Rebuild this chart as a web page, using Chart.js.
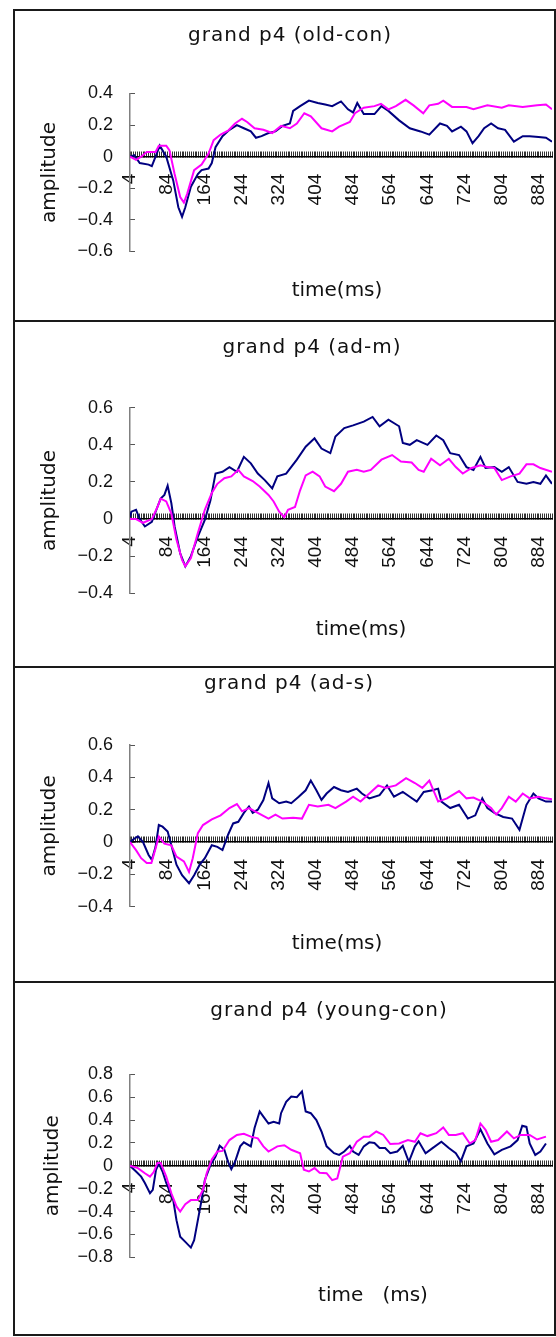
<!DOCTYPE html>
<html>
<head>
<meta charset="utf-8">
<script src="https://cdn.jsdelivr.net/npm/chart.js"></script>
<style>
  html, body { margin: 0; padding: 0; background: #fff; }
  body { position: relative; width: 556px; height: 1337px; overflow: hidden; }
  .panel { position: absolute; left: 13px; width: 543px; box-sizing: border-box; border: 2px solid #1a1a1a; }
  canvas { position: absolute; left: 0; }
</style>
</head>
<body>
<script>
// time axis (ms): one tick per 4 ms sample, a label every 80 ms
const timeMin = 4;
const timeMax = 912;
const timeStep = 4;
const xTickLabels = [4, 84, 164, 244, 324, 404, 484, 564, 644, 724, 804, 884];

const titles = ['grand p4 (old-con)', 'grand p4 (ad-m)', 'grand p4 (ad-s)', 'grand p4 (young-con)'];
const xTitles = ['time(ms)', 'time(ms)', 'time(ms)', 'time   (ms)'];
const yTitle = 'amplitude';
const yMins = [-0.6, -0.4, -0.4, -0.8];
const yMaxs = [0.4, 0.6, 0.6, 0.8];
const yStep = 0.2;

// [time ms, amplitude]
const oldConNavy = [[4,0],[13,0.01],[25,-0.04],[44,-0.05],[51,-0.06],[59,0],[68,0.07],[82,0],[97,-0.15],[108,-0.32],[116,-0.38],[123,-0.32],[135,-0.19],[150,-0.11],[158,-0.085],[173,-0.075],[180,-0.04],[188,0.06],[203,0.13],[218,0.17],[234,0.2],[249,0.18],[264,0.16],[275,0.12],[287,0.13],[302,0.15],[317,0.16],[332,0.195],[348,0.21],[355,0.29],[370,0.32],[389,0.355],[408,0.34],[424,0.33],[439,0.32],[458,0.35],[473,0.3],[484,0.28],[493,0.34],[507,0.27],[530,0.27],[545,0.32],[560,0.29],[583,0.23],[606,0.18],[629,0.16],[648,0.14],[671,0.21],[686,0.195],[697,0.16],[716,0.19],[728,0.16],[741,0.085],[754,0.13],[766,0.18],[781,0.21],[796,0.18],[811,0.17],[830,0.095],[849,0.13],[864,0.13],[883,0.125],[899,0.12],[912,0.095]];
const oldConPink = [[4,0],[17,-0.02],[28,0],[40,0.03],[59,0.03],[66,0.07],[82,0.07],[89,0.04],[100,-0.11],[112,-0.255],[120,-0.29],[127,-0.235],[142,-0.085],[158,-0.05],[173,0.02],[184,0.105],[199,0.14],[215,0.165],[230,0.21],[245,0.24],[256,0.22],[272,0.18],[291,0.17],[310,0.15],[329,0.195],[348,0.18],[363,0.21],[379,0.275],[393,0.255],[416,0.18],[439,0.16],[454,0.19],[477,0.22],[488,0.275],[507,0.31],[530,0.32],[544,0.335],[560,0.3],[576,0.32],[597,0.36],[614,0.325],[635,0.275],[648,0.325],[667,0.335],[678,0.355],[697,0.315],[728,0.315],[743,0.3],[773,0.325],[804,0.31],[819,0.325],[849,0.315],[880,0.325],[899,0.33],[912,0.3]];

const adMNavy = [[4,0.01],[7,0.04],[17,0.05],[25,0],[36,-0.04],[51,-0.015],[63,0.065],[70,0.11],[78,0.13],[85,0.18],[93,0.085],[100,-0.04],[112,-0.185],[123,-0.255],[135,-0.2],[150,-0.095],[165,-0.005],[177,0.1],[188,0.245],[203,0.255],[218,0.28],[234,0.255],[249,0.335],[264,0.3],[279,0.245],[294,0.21],[310,0.165],[321,0.23],[340,0.245],[363,0.32],[382,0.39],[401,0.435],[416,0.38],[435,0.355],[446,0.445],[465,0.49],[484,0.505],[507,0.525],[526,0.55],[541,0.5],[560,0.535],[583,0.5],[591,0.41],[606,0.4],[621,0.425],[644,0.4],[663,0.45],[678,0.425],[693,0.355],[712,0.345],[728,0.28],[743,0.265],[758,0.335],[769,0.275],[788,0.28],[804,0.255],[819,0.28],[838,0.2],[857,0.19],[872,0.2],[887,0.19],[899,0.235],[912,0.19]];
const adMPink = [[4,0],[17,0],[32,-0.02],[51,0],[63,0.065],[70,0.11],[82,0.095],[93,0.03],[104,-0.11],[116,-0.22],[123,-0.255],[135,-0.21],[150,-0.075],[165,0.05],[180,0.14],[192,0.19],[207,0.22],[222,0.23],[237,0.265],[249,0.23],[268,0.205],[283,0.175],[302,0.13],[313,0.095],[325,0.04],[336,0.01],[344,0.05],[359,0.065],[370,0.155],[382,0.235],[397,0.255],[412,0.23],[424,0.175],[443,0.15],[458,0.19],[473,0.255],[492,0.265],[507,0.255],[522,0.265],[545,0.32],[568,0.345],[587,0.31],[610,0.305],[625,0.265],[636,0.255],[652,0.325],[671,0.29],[690,0.325],[705,0.28],[720,0.245],[739,0.275],[758,0.29],[773,0.28],[788,0.275],[804,0.21],[823,0.23],[842,0.245],[857,0.295],[872,0.295],[887,0.275],[912,0.255]];

const adSNavy = [[4,0],[13,0.02],[21,0.035],[32,0],[44,-0.08],[51,-0.11],[59,-0.03],[66,0.105],[74,0.095],[85,0.065],[93,-0.02],[104,-0.14],[116,-0.205],[131,-0.255],[142,-0.205],[154,-0.14],[165,-0.1],[180,-0.02],[192,-0.03],[203,-0.05],[215,0.045],[226,0.115],[237,0.125],[249,0.18],[260,0.22],[268,0.18],[279,0.2],[291,0.26],[302,0.365],[310,0.27],[325,0.24],[340,0.25],[351,0.24],[367,0.28],[382,0.32],[393,0.38],[405,0.32],[416,0.26],[427,0.3],[443,0.34],[458,0.32],[473,0.31],[492,0.33],[503,0.3],[519,0.27],[541,0.29],[557,0.35],[572,0.28],[591,0.31],[606,0.28],[621,0.25],[636,0.31],[655,0.32],[667,0.33],[674,0.25],[693,0.21],[712,0.23],[731,0.145],[747,0.165],[762,0.27],[773,0.21],[788,0.18],[807,0.155],[826,0.145],[842,0.075],[857,0.23],[872,0.3],[883,0.27],[899,0.25],[912,0.25]];
const adSPink = [[4,0],[17,-0.05],[28,-0.1],[40,-0.13],[50,-0.13],[59,-0.04],[66,0.035],[78,-0.01],[93,-0.02],[104,-0.09],[120,-0.12],[131,-0.185],[139,-0.1],[150,0.055],[161,0.105],[180,0.14],[199,0.165],[218,0.21],[234,0.235],[245,0.19],[260,0.21],[279,0.18],[302,0.145],[317,0.17],[332,0.145],[355,0.15],[374,0.145],[389,0.23],[408,0.22],[431,0.23],[446,0.21],[469,0.25],[484,0.28],[500,0.25],[519,0.3],[538,0.35],[553,0.335],[576,0.35],[598,0.395],[617,0.365],[633,0.335],[648,0.38],[667,0.25],[686,0.27],[712,0.315],[728,0.27],[743,0.275],[762,0.25],[781,0.21],[792,0.17],[804,0.21],[819,0.28],[834,0.25],[849,0.3],[864,0.27],[883,0.28],[899,0.27],[912,0.265]];

const youngConNavy = [[4,0],[17,-0.05],[28,-0.095],[36,-0.15],[47,-0.24],[53,-0.21],[60,-0.035],[66,0.02],[74,-0.05],[82,-0.15],[97,-0.3],[104,-0.475],[112,-0.62],[123,-0.665],[135,-0.715],[142,-0.65],[150,-0.475],[158,-0.3],[165,-0.125],[177,0.005],[188,0.08],[197,0.175],[207,0.14],[215,0.035],[222,-0.03],[230,0.035],[241,0.17],[249,0.205],[264,0.17],[272,0.33],[283,0.475],[291,0.43],[302,0.37],[313,0.385],[325,0.37],[329,0.46],[340,0.56],[351,0.605],[363,0.6],[374,0.65],[382,0.475],[393,0.46],[405,0.4],[416,0.3],[427,0.17],[443,0.11],[454,0.095],[465,0.125],[477,0.175],[484,0.125],[496,0.095],[507,0.17],[519,0.205],[530,0.2],[541,0.155],[553,0.155],[564,0.11],[579,0.125],[591,0.175],[604,0.035],[617,0.17],[625,0.215],[640,0.11],[655,0.155],[674,0.21],[690,0.155],[705,0.11],[716,0.04],[728,0.17],[743,0.195],[758,0.32],[773,0.195],[788,0.1],[804,0.14],[823,0.17],[838,0.225],[848,0.35],[857,0.34],[864,0.195],[876,0.095],[887,0.125],[899,0.195]];
const youngConPink = [[4,0],[21,-0.02],[36,-0.065],[47,-0.095],[55,-0.055],[63,0.025],[70,0.025],[82,-0.095],[93,-0.24],[104,-0.355],[112,-0.4],[123,-0.335],[135,-0.3],[150,-0.3],[161,-0.21],[169,-0.065],[180,0.055],[192,0.125],[203,0.13],[218,0.225],[234,0.27],[249,0.28],[264,0.255],[279,0.24],[291,0.17],[302,0.125],[321,0.17],[336,0.18],[351,0.14],[370,0.11],[378,-0.035],[389,-0.05],[401,-0.02],[412,-0.06],[427,-0.065],[439,-0.125],[450,-0.11],[462,0.08],[477,0.11],[492,0.21],[507,0.255],[519,0.255],[534,0.3],[549,0.27],[564,0.19],[583,0.195],[602,0.225],[617,0.21],[629,0.285],[644,0.26],[663,0.285],[678,0.335],[690,0.27],[705,0.27],[720,0.285],[735,0.195],[747,0.225],[758,0.37],[769,0.315],[781,0.21],[796,0.225],[815,0.3],[830,0.24],[845,0.27],[864,0.27],[880,0.23],[899,0.255]];

const navySeries = [oldConNavy, adMNavy, adSNavy, youngConNavy];
const pinkSeries = [oldConPink, adMPink, adSPink, youngConPink];

// page layout of the four boxes (px)
const layout = [
  { top: 9,   height: 313, plotTop: 93.5,  plotBottom: 251.5,  titleX: 290, titleY: 36,  xTitleX: 337, xTitleY: 291,  yTitleX: 50 },
  { top: 320, height: 348, plotTop: 407.7, plotBottom: 593.3,  titleX: 312, titleY: 348, xTitleX: 361, xTitleY: 630,  yTitleX: 50 },
  { top: 666, height: 317, plotTop: 745,   plotBottom: 906.7,  titleX: 289, titleY: 684, xTitleX: 337, xTitleY: 944,  yTitleX: 50 },
  { top: 981, height: 355, plotTop: 1074.3, plotBottom: 1257.3, titleX: 329, titleY: 1011, xTitleX: 373, xTitleY: 1296, yTitleX: 53 }
];
const plotLeft = 130;
const plotRight = 552;

const panelText = {
  id: 'panelText',
  afterDraw(chart, args, opts) {
    const ctx = chart.ctx;
    ctx.save();
    ctx.fillStyle = '#111';
    ctx.font = '20px "DejaVu Sans"';
    ctx.letterSpacing = '1px';
    ctx.textAlign = 'center';
    ctx.textBaseline = 'middle';
    ctx.fillText(opts.title, opts.titleX, opts.titleY);
    ctx.letterSpacing = '0px';
    ctx.fillText(opts.xTitle, opts.xTitleX, opts.xTitleY);
    ctx.restore();
  }
};
Chart.register(panelText);

function fmtY(v) {
  const s = String(Number(v.toFixed(1)));
  return s.replace('-', '\u2212');
}

function noPad(s) {
  s.paddingLeft = 0; s.paddingRight = 0; s.paddingTop = 0; s.paddingBottom = 0;
}

layout.forEach((box, i) => {
  const div = document.createElement('div');
  div.className = 'panel';
  div.style.top = box.top + 'px';
  div.style.height = box.height + 'px';
  document.body.appendChild(div);

  const canvas = document.createElement('canvas');
  canvas.width = 556;
  canvas.height = box.height;
  canvas.style.top = box.top + 'px';
  document.body.appendChild(canvas);

  new Chart(canvas, {
    type: 'line',
    data: {
      datasets: [
        { label: 'navy', data: navySeries[i], borderColor: '#000080', order: 1 },
        { label: 'pink', data: pinkSeries[i], borderColor: '#ff00ff', order: 0 }
      ]
    },
    options: {
      responsive: false,
      animation: false,
      devicePixelRatio: 1,
      datasets: { line: { borderWidth: 2, pointRadius: 0, tension: 0, fill: false } },
      layout: {
        padding: {
          left: 0,
          right: 556 - plotRight,
          top: box.plotTop - box.top,
          bottom: box.height - (box.plotBottom - box.top)
        }
      },
      plugins: {
        legend: { display: false },
        tooltip: { enabled: false },
        panelText: {
          title: titles[i], titleX: box.titleX, titleY: box.titleY - box.top,
          xTitle: xTitles[i], xTitleX: box.xTitleX, xTitleY: box.xTitleY - box.top
        }
      },
      scales: {
        x: {
          type: 'linear',
          min: timeMin,
          max: timeMax,
          position: { y: 0 },
          afterFit: (s) => { s.height = 0; noPad(s); },
          border: { color: '#000', width: 1.5 },
          grid: { drawOnChartArea: false, drawTicks: true, tickLength: -6, color: '#333', lineWidth: 1 },
          ticks: {
            stepSize: timeStep,
            autoSkip: false,
            minRotation: 90,
            maxRotation: 90,
            padding: 23,
            color: '#111',
            font: { family: '"Liberation Sans", Arial', size: 19 },
            callback: (v) => xTickLabels.includes(v) ? String(v) : ''
          }
        },
        y: {
          type: 'linear',
          min: yMins[i],
          max: yMaxs[i],
          afterFit: (s) => { s.width = plotLeft; noPad(s); },
          border: { color: '#808080', width: 1.5 },
          grid: { drawOnChartArea: false, drawTicks: true, tickLength: -5, color: '#555', lineWidth: 1 },
          title: {
            display: true,
            text: yTitle,
            color: '#111',
            font: { family: '"DejaVu Sans"', size: 20 },
            padding: { top: box.yTitleX - 12, bottom: 0 }
          },
          ticks: {
            stepSize: yStep,
            autoSkip: false,
            padding: 22,
            color: '#111',
            font: { family: '"Liberation Sans", Arial', size: 18 },
            callback: fmtY
          }
        }
      }
    }
  });
});
</script>
</body>
</html>
